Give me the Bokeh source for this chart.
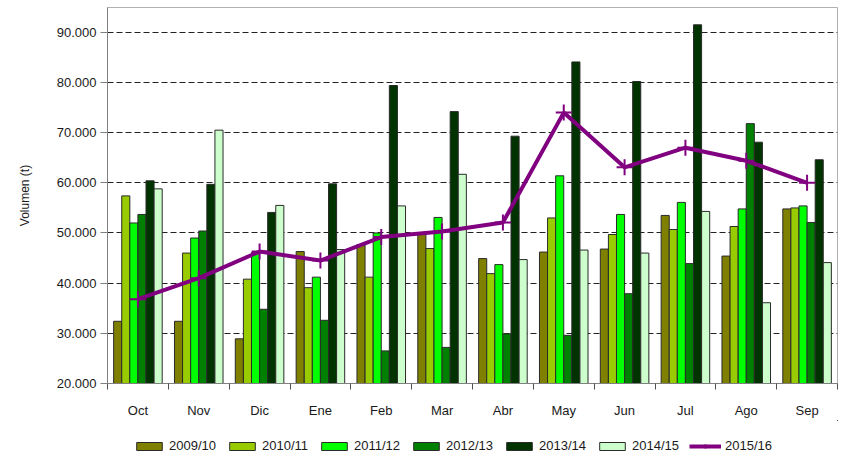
import numpy as np
from bokeh.plotting import figure
from bokeh.layouts import column
from bokeh.models import Range1d, FixedTicker, Legend, LegendItem, ColumnDataSource
from bokeh.embed import file_html
from bokeh.resources import INLINE

months = ["Oct", "Nov", "Dic", "Ene", "Feb", "Mar", "Abr", "May", "Jun", "Jul", "Ago", "Sep"]
seasons = ["2009/10", "2010/11", "2011/12", "2012/13", "2013/14", "2014/15"]
v2009_10 = [32400, 32400, 28900, 46300, 47700, 49900, 44900, 46200, 46800, 53500, 45400, 54800]
v2010_11 = [57400, 46000, 40800, 39100, 41200, 46900, 41900, 53000, 49700, 50700, 51300, 55000]
v2011_12 = [52000, 49000, 46100, 41200, 50000, 53100, 43700, 61400, 53700, 56100, 54800, 55400]
v2012_13 = [53700, 50400, 34800, 32600, 26500, 27200, 29900, 29600, 37900, 43900, 71800, 52100]
v2013_14 = [60400, 59700, 54100, 59800, 79400, 74200, 69300, 84100, 80200, 91500, 68100, 64600]
v2014_15 = [58800, 70500, 55500, 46700, 55400, 61700, 44700, 46600, 46000, 54300, 36100, 44100]
line_label = "2015/16"
v2015_16 = [36800, 41000, 46300, 44500, 49200, 50300, 52100, 74000, 63100, 67000, 64400, 60000]
y_ticks = [20000, 30000, 40000, 50000, 60000, 70000, 80000, 90000]

bar_series = [v2009_10, v2010_11, v2011_12, v2012_13, v2013_14, v2014_15]
bar_colors = ["#808000", "#99CC00", "#00FF00", "#008000", "#003300", "#CCFFCC"]
line_color = "#800080"
FONT = "Liberation Sans"
TXT = "#1a1a1a"
BAR_EDGE = "#2a2a2a"
FS = "13px"

p = figure(width=841, height=420, output_backend="svg", toolbar_location=None,
           x_range=Range1d(0, 12), y_range=Range1d(20000, 94950),
           min_border_left=107, min_border_right=4, min_border_top=7, min_border_bottom=30)
p.outline_line_color = "#b0b0b0"
p.background_fill_color = "white"
p.border_fill_color = "white"

centers = np.arange(len(months)) + 0.5
bw = 0.133
for k, (name, vals, col) in enumerate(zip(seasons, bar_series, bar_colors)):
    src = ColumnDataSource(dict(x=centers + (k - 2.5) * bw, top=vals))
    p.vbar(x="x", top="top", bottom=y_ticks[0], width=bw, source=src,
           fill_color=col, line_color=BAR_EDGE, line_width=1)

lsrc = ColumnDataSource(dict(x=centers, y=v2015_16))
p.line("x", "y", source=lsrc, line_color=line_color, line_width=4)
p.scatter("x", "y", source=lsrc, marker="cross", size=16, line_color=line_color, line_width=2)

# axes
p.xgrid.visible = False
p.ygrid.ticker = FixedTicker(ticks=y_ticks[1:])
p.ygrid.grid_line_color = "#222222"
p.ygrid.grid_line_dash = "6 3"
p.ygrid.grid_line_width = 1

ya = p.yaxis[0]
ya.ticker = FixedTicker(ticks=y_ticks)
ya.major_label_overrides = {t: f"{t:,}".replace(",", ".") for t in y_ticks}
ya.axis_label = "Volumen (t)"
ya.axis_label_text_font = FONT
ya.axis_label_text_font_style = "normal"
ya.axis_label_text_font_size = "12px"
ya.axis_label_text_color = TXT
ya.axis_label_standoff = 22
ya.major_label_text_font = FONT
ya.major_label_text_font_size = FS
ya.major_label_text_color = TXT
ya.major_label_standoff = 4
ya.major_tick_out = 7
ya.major_tick_in = 0
ya.minor_tick_out = 0
ya.minor_tick_in = 0
ya.axis_line_color = "#808080"
ya.major_tick_line_color = "#808080"

xa = p.xaxis[0]
xa.ticker = FixedTicker(ticks=list(centers), minor_ticks=list(range(len(months) + 1)))
xa.major_label_overrides = {float(c): m for c, m in zip(centers, months)}
xa.major_label_text_font = FONT
xa.major_label_text_font_size = FS
xa.major_label_text_color = TXT
xa.major_label_standoff = 13
xa.major_tick_out = 0
xa.major_tick_in = 0
xa.minor_tick_out = 6
xa.minor_tick_in = 0
xa.axis_line_color = "#808080"
xa.minor_tick_line_color = "#505050"

# legend strip: separate figure whose stand-in renderers sit outside its visible range
lg = figure(width=841, height=36, output_backend="svg", toolbar_location=None,
            x_range=Range1d(0, 1), y_range=Range1d(0, 1),
            min_border=0, x_axis_type=None, y_axis_type=None)
lg.outline_line_color = None
lg.xgrid.visible = False
lg.ygrid.visible = False
items = []
for name, col in zip(seasons, bar_colors):
    r = lg.vbar(x=[5], top=[6], bottom=[5], width=0.1, fill_color=col, line_color=BAR_EDGE, line_width=1)
    items.append(LegendItem(label=name, renderers=[r]))
rl = lg.line(x=[5, 6], y=[5, 6], line_color=line_color, line_width=4)
rm = lg.scatter(x=[5], y=[5], marker="cross", size=12, line_color=line_color, line_width=2)
items.append(LegendItem(label=line_label, renderers=[rl, rm]))

legend = Legend(items=items, orientation="horizontal", location=(26, 3),
                glyph_width=32, glyph_height=10, label_standoff=4, spacing=10,
                padding=0, margin=0, border_line_color=None, background_fill_alpha=0,
                label_text_font=FONT, label_text_font_size=FS, label_text_color=TXT)
lg.add_layout(legend, "center")

layout = column(p, lg, spacing=0)
open("out.html", "w").write(file_html(layout, INLINE))
